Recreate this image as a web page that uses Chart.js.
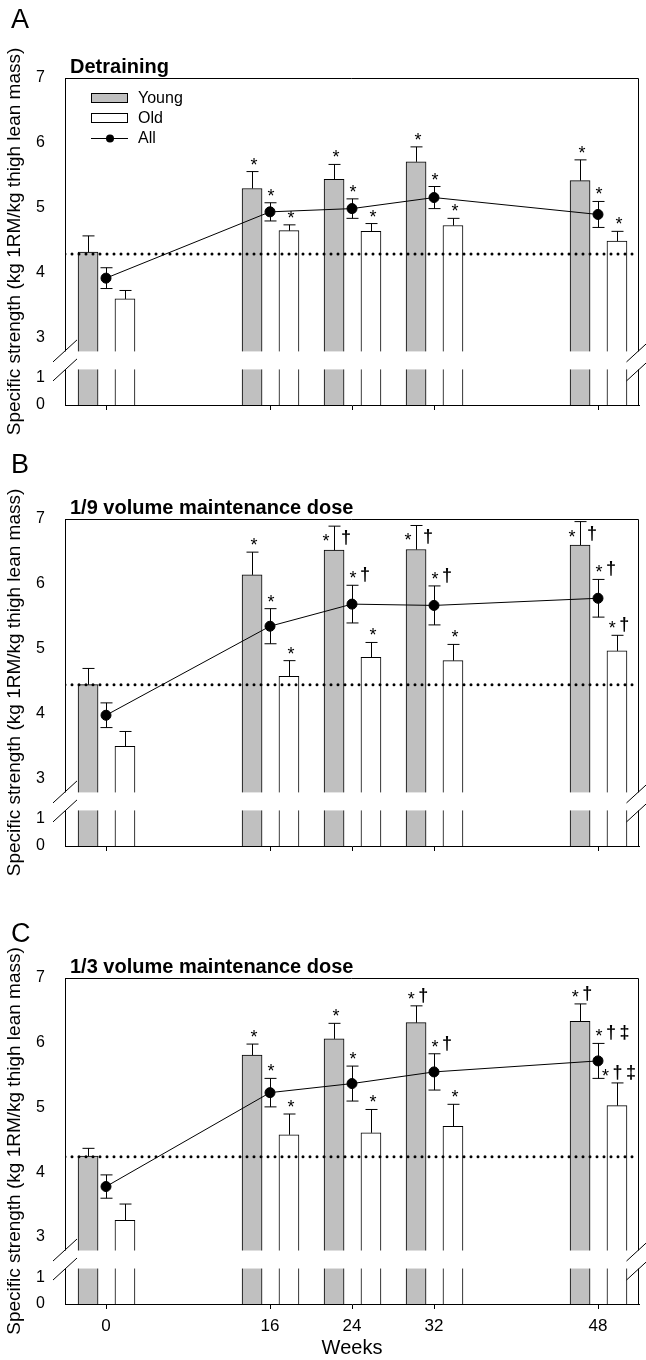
<!DOCTYPE html>
<html lang="en">
<head>
<meta charset="UTF-8">
<title>Specific strength during detraining and maintenance</title>
<style>
  body { margin: 0; background: #fff; }
  #wrap { position: relative; width: 646px; height: 1360px; }
  .panel { position: absolute; left: 0; width: 646px; }
</style>
</head>
<body>
<div id="wrap">
  <div class="panel" style="top:0;height:440px"><canvas id="chartA"></canvas></div>
  <div class="panel" style="top:440px;height:440px"><canvas id="chartB"></canvas></div>
  <div class="panel" style="top:880px;height:480px"><canvas id="chartC"></canvas></div>
</div>
<script src="https://cdn.jsdelivr.net/npm/chart.js"></script>
<script>
// weeks of training / maintenance
const weeks = [0, 16, 24, 32, 48];
const yTicks = [0, 1, 3, 4, 5, 6, 7];

// A - detraining
const youngA = [4.32, 5.30, 5.44, 5.71, 5.42];
const youngErrA = [0.25, 0.26, 0.23, 0.23, 0.32];
const oldA = [3.60, 4.65, 4.64, 4.73, 4.49];
const oldErrA = [0.13, 0.09, 0.12, 0.11, 0.15];
const allA = [3.92, 4.94, 4.99, 5.16, 4.90];
const allErrA = [0.16, 0.14, 0.15, 0.17, 0.20];
const baseA = 4.29;
const youngMarksA = ['', '*', '*', '*', '*'];
const oldMarksA = ['', '*', '*', '*', '*'];
const allMarksA = ['', '*', '*', '*', '*'];

// B - 1/9 volume
const youngB = [4.45, 6.14, 6.52, 6.53, 6.60];
const youngErrB = [0.25, 0.35, 0.37, 0.37, 0.36];
const oldB = [3.50, 4.58, 4.87, 4.82, 4.97];
const oldErrB = [0.23, 0.24, 0.23, 0.25, 0.24];
const allB = [3.98, 5.35, 5.69, 5.67, 5.78];
const allErrB = [0.19, 0.27, 0.29, 0.30, 0.29];
const baseB = 4.45;
const youngMarksB = ['', '*', '*†', '*†', '*†'];
const oldMarksB = ['', '*', '*', '*', '*†'];
const allMarksB = ['', '*', '*†', '*†', '*†'];

// C - 1/3 volume
const youngC = [4.25, 5.81, 6.06, 6.31, 6.33];
const youngErrC = [0.12, 0.17, 0.24, 0.26, 0.27];
const oldC = [3.26, 4.58, 4.61, 4.71, 5.03];
const oldErrC = [0.25, 0.32, 0.36, 0.34, 0.35];
const allC = [3.78, 5.23, 5.37, 5.55, 5.72];
const allErrC = [0.18, 0.22, 0.27, 0.28, 0.27];
const baseC = 4.24;
const youngMarksC = ['', '*', '*', '*†', '*†'];
const oldMarksC = ['', '*', '*', '*', '*†‡'];
const allMarksC = ['', '*', '*', '*†', '*†‡'];

const X_MIN = -4, X_MAX = 52;
const YOUNG_SHIFT = -1.75, OLD_SHIFT = 1.85;
const FONT = "'Liberation Sans', Arial, sans-serif";

// broken y axis: 0..1.3 squeezed, gap, then 2.8..7
const BREAK_LOW = 1.3, BREAK_HIGH = 2.8, BREAK_GAP = 19, LOW_RATIO = 27 / 65;

class BrokenScale extends Chart.LinearScale {
  _unit() {
    return (this.bottom - this.top - BREAK_GAP) / (this.max - BREAK_HIGH + BREAK_LOW * LOW_RATIO);
  }
  getPixelForValue(value) {
    const unit = this._unit();
    const lowH = BREAK_LOW * LOW_RATIO * unit;
    let d;
    if (value <= BREAK_LOW) d = value * LOW_RATIO * unit;
    else if (value >= BREAK_HIGH) d = lowH + BREAK_GAP + (value - BREAK_HIGH) * unit;
    else d = lowH + (value - BREAK_LOW) / (BREAK_HIGH - BREAK_LOW) * BREAK_GAP;
    return this.bottom - d;
  }
  getValueForPixel(pixel) {
    const d = this.bottom - pixel;
    const unit = this._unit();
    const lowH = BREAK_LOW * LOW_RATIO * unit;
    if (d <= lowH) return d / (LOW_RATIO * unit);
    if (d >= lowH + BREAK_GAP) return BREAK_HIGH + (d - lowH - BREAK_GAP) / unit;
    return BREAK_LOW + (d - lowH) / BREAK_GAP * (BREAK_HIGH - BREAK_LOW);
  }
}
BrokenScale.id = 'broken';
BrokenScale.defaults = Chart.LinearScale.defaults;
Chart.register(BrokenScale);

Chart.defaults.font.family = FONT;
Chart.defaults.color = '#000';

const STAR_FONT = '18px ' + FONT;
const DAGGER_FONT = 'bold 18px ' + FONT;
const GAP = 3.5;

// draw symbols left to right from x0; the asterisk sits a bit lower than the daggers
function drawSymbols(ctx, chars, x0, baseline) {
  let x = x0;
  chars.forEach(c => {
    ctx.font = c === '*' ? STAR_FONT : DAGGER_FONT;
    ctx.fillText(c, x, c === '*' ? baseline + 4 : baseline);
    x += ctx.measureText(c).width + GAP;
  });
}
function symbolsWidth(ctx, chars) {
  return chars.reduce((s, c) => {
    ctx.font = c === '*' ? STAR_FONT : DAGGER_FONT;
    return s + ctx.measureText(c).width;
  }, 0) + GAP * (chars.length - 1);
}

function drawMark(ctx, text, x, yTop, chartTop, kind) {
  if (!text) return;
  const chars = text.split('');
  ctx.textAlign = 'left';
  ctx.textBaseline = 'alphabetic';
  ctx.font = STAR_FONT;
  const starW = ctx.measureText('*').width;
  if (kind === 'point') {
    drawSymbols(ctx, chars, x + 1 - starW / 2, yTop - 5);
  } else if (yTop - 20 < chartTop && chars.length > 1) {
    // no room above the error bar: marks go beside it
    drawSymbols(ctx, chars.slice(0, 1), x - 8 - starW / 2, yTop + 17);
    drawSymbols(ctx, chars.slice(1), x + 7, yTop + 17);
  } else {
    drawSymbols(ctx, chars, x + 2 - symbolsWidth(ctx, chars) / 2, yTop - 5);
  }
}

const decor = {
  id: 'decor',
  beforeDatasetsDraw(chart) {
    const {ctx, chartArea: a} = chart;
    ctx.save();
    ctx.strokeStyle = '#000';
    ctx.lineWidth = 1;
    ctx.beginPath();
    ctx.moveTo(a.left, a.top + 0.5);
    ctx.lineTo(a.right - 0.5, a.top + 0.5);
    ctx.lineTo(a.right - 0.5, a.bottom);
    ctx.stroke();
    ctx.restore();
  },
  afterDatasetsDraw(chart, args, opts) {
    const {ctx, chartArea: a} = chart;
    const ys = chart.scales.y;
    ctx.save();
    ctx.strokeStyle = '#000';
    ctx.fillStyle = '#000';
    ctx.lineWidth = 1;
    chart.data.datasets.forEach((ds, di) => {
      if (!ds.errors) return;
      const meta = chart.getDatasetMeta(di);
      meta.data.forEach((el, i) => {
        const v = ds.data[i].y, e = ds.errors[i];
        const x = Math.round(el.x) + 0.5;
        const top = ys.getPixelForValue(v + e);
        const from = ds.errMode === 'both' ? ys.getPixelForValue(v - e) : ys.getPixelForValue(v);
        ctx.beginPath();
        ctx.moveTo(x, from);
        ctx.lineTo(x, top);
        ctx.moveTo(x - 6, top);
        ctx.lineTo(x + 6, top);
        if (ds.errMode === 'both') {
          ctx.moveTo(x - 6, from);
          ctx.lineTo(x + 6, from);
        }
        ctx.stroke();
        drawMark(ctx, ds.marks[i], el.x, top, a.top, ds.markKind);
      });
    });

    // axis break
    const pHigh = ys.getPixelForValue(BREAK_HIGH);
    const pLow = ys.getPixelForValue(BREAK_LOW);
    ctx.fillStyle = '#fff';
    ctx.fillRect(a.left - 2, pHigh + 0.5, a.right - a.left + 4, pLow - pHigh - 1);
    ctx.beginPath();
    [a.left, a.right - 0.5].forEach(x => {
      [pHigh, pLow].forEach(y => {
        ctx.moveTo(x - 12, y + 11);
        ctx.lineTo(x + 12, y - 11);
      });
    });
    ctx.stroke();

    if (opts.legend) {
      const lx = a.left + 26, tx = a.left + 73;
      ctx.font = '16px ' + FONT;
      ctx.textAlign = 'left';
      ctx.textBaseline = 'middle';
      chart.data.datasets.filter(d => d.legendRow !== undefined).forEach(d => {
        const cy = a.top + 20 + d.legendRow * 20;
        ctx.strokeStyle = '#000';
        if (d.type === 'bar') {
          ctx.fillStyle = d.backgroundColor;
          ctx.fillRect(lx, cy - 5, 37, 10);
          ctx.strokeRect(lx + 0.5, cy - 4.5, 36, 9);
        } else {
          ctx.beginPath();
          ctx.moveTo(lx, cy + 0.5);
          ctx.lineTo(lx + 37, cy + 0.5);
          ctx.stroke();
          ctx.fillStyle = '#000';
          ctx.beginPath();
          ctx.arc(lx + 19, cy + 0.5, 4, 0, Math.PI * 2);
          ctx.fill();
        }
        ctx.fillStyle = '#000';
        ctx.fillText(d.label, tx, cy + 1);
      });
    }
    ctx.restore();
  },
  afterDraw(chart, args, opts) {
    const {ctx, chartArea: a} = chart;
    ctx.save();
    ctx.fillStyle = '#000';
    ctx.textAlign = 'left';
    ctx.textBaseline = 'alphabetic';
    ctx.font = '27px ' + FONT;
    ctx.fillText(opts.letter, 11, opts.letterY);
    ctx.font = 'bold 20px ' + FONT;
    ctx.fillText(opts.title, a.left + 5, a.top - 5);
    ctx.restore();
  }
};

const panels = [
  {id: 'chartA', letter: 'A', letterY: 28, title: 'Detraining', top: 78, xHeight: 35, legend: true, xLabels: false,
   young: youngA, youngErr: youngErrA, old: oldA, oldErr: oldErrA, all: allA, allErr: allErrA, base: baseA,
   youngMarks: youngMarksA, oldMarks: oldMarksA, allMarks: allMarksA},
  {id: 'chartB', letter: 'B', letterY: 33, title: '1/9 volume maintenance dose', top: 79, xHeight: 34, legend: false, xLabels: false,
   young: youngB, youngErr: youngErrB, old: oldB, oldErr: oldErrB, all: allB, allErr: allErrB, base: baseB,
   youngMarks: youngMarksB, oldMarks: oldMarksB, allMarks: allMarksB},
  {id: 'chartC', letter: 'C', letterY: 62, title: '1/3 volume maintenance dose', top: 98, xHeight: 56, legend: false, xLabels: true,
   young: youngC, youngErr: youngErrC, old: oldC, oldErr: oldErrC, all: allC, allErr: allErrC, base: baseC,
   youngMarks: youngMarksC, oldMarks: oldMarksC, allMarks: allMarksC}
];

panels.forEach(p => {
  new Chart(document.getElementById(p.id), {
    type: 'bar',
    data: {
      datasets: [
        {
          type: 'bar', label: 'Young', legendRow: 0,
          data: weeks.map((w, i) => ({x: w + YOUNG_SHIFT, y: p.young[i]})),
          backgroundColor: '#c0c0c0', borderColor: '#000', borderWidth: 1,
          barThickness: 20, grouped: false, order: 3,
          errors: p.youngErr, errMode: 'up', marks: p.youngMarks, markKind: 'bar'
        },
        {
          type: 'bar', label: 'Old', legendRow: 1,
          data: weeks.map((w, i) => ({x: w + OLD_SHIFT, y: p.old[i]})),
          backgroundColor: '#ffffff', borderColor: '#000', borderWidth: 1,
          barThickness: 20, grouped: false, order: 3,
          errors: p.oldErr, errMode: 'up', marks: p.oldMarks, markKind: 'bar'
        },
        {
          type: 'line', label: 'Baseline',
          data: [{x: X_MIN, y: p.base}, {x: X_MAX, y: p.base}],
          borderColor: '#000', borderWidth: 3, borderDash: [0, 7], borderCapStyle: 'round',
          pointRadius: 0, order: 2
        },
        {
          type: 'line', label: 'All', legendRow: 2,
          data: weeks.map((w, i) => ({x: w, y: p.all[i]})),
          borderColor: '#000', borderWidth: 1, pointRadius: 5,
          pointBackgroundColor: '#000', pointBorderColor: '#000', order: 1,
          errors: p.allErr, errMode: 'both', marks: p.allMarks, markKind: 'point'
        }
      ]
    },
    options: {
      responsive: true,
      maintainAspectRatio: false,
      animation: false,
      events: [],
      layout: {padding: {top: p.top, right: 7, bottom: 0, left: 0}},
      scales: {
        x: {
          type: 'linear', min: X_MIN, max: X_MAX, offset: false,
          afterBuildTicks: s => { s.ticks = weeks.map(v => ({value: v})); },
          afterFit: s => { s.height = p.xHeight; },
          grid: {drawOnChartArea: false, drawTicks: true, tickLength: 5, color: '#000', offset: false},
          border: {display: true, color: '#000', width: 1},
          ticks: {display: p.xLabels, autoSkip: false, maxRotation: 0, padding: 7, font: {size: 17}, color: '#000'},
          title: {display: p.xLabels, text: 'Weeks', font: {size: 20}, padding: {top: 0, bottom: 0}, color: '#000'}
        },
        y: {
          type: 'broken', min: 0, max: 7,
          afterBuildTicks: s => { s.ticks = yTicks.map(v => ({value: v})); },
          afterFit: s => { s.width = 65; },
          grid: {display: false},
          border: {display: true, color: '#000', width: 1},
          ticks: {autoSkip: false, padding: 12, font: {size: 16}, color: '#000'},
          title: {display: true, text: 'Specific strength (kg 1RM/kg thigh lean mass)', font: {size: 19}, padding: {top: 3, bottom: 0}, color: '#000'}
        }
      },
      plugins: {
        legend: {display: false},
        tooltip: {enabled: false},
        decor: {letter: p.letter, letterY: p.letterY, title: p.title, legend: p.legend}
      }
    },
    plugins: [decor]
  });
});
</script>
</body>
</html>
